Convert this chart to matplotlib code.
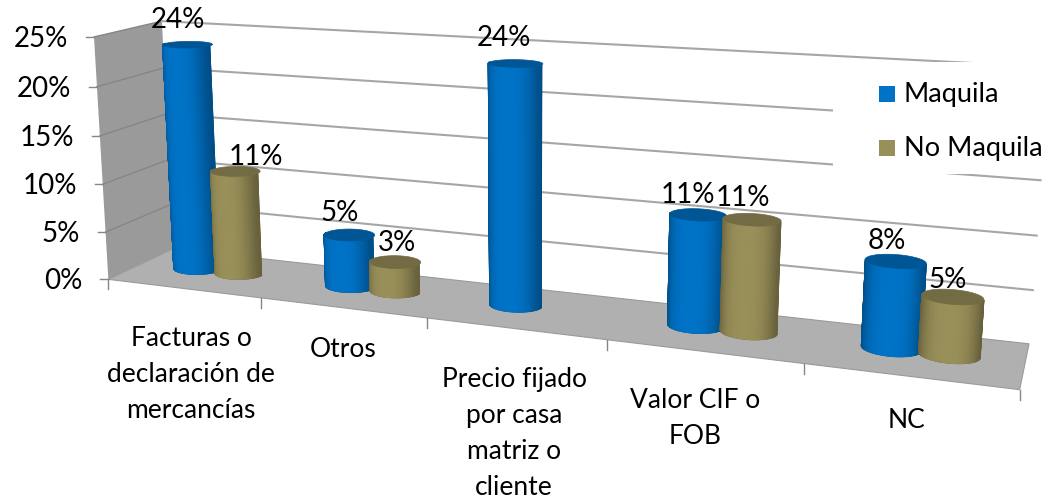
import numpy as np
from matplotlib import pyplot as plt
from matplotlib.colors import LinearSegmentedColormap
from matplotlib.patches import Polygon, Rectangle

categories = ['Facturas o\ndeclaración de\nmercancías', 'Otros',
              'Precio fijado\npor casa\nmatriz o\ncliente', 'Valor CIF o\nFOB', 'NC']
maquila = [23.6, 5.3, 23.6, 10.6, 8]
no_maquila = [10.8, 3, 0, 10.6, 5.3]
value_ticks = [0, 5, 10, 15, 20, 25]

BLUE = np.array([0.0, 0.45, 0.78])
OLIVE = np.array([0.60, 0.56, 0.35])
FONT = 'Lato'

# pixel places of known points of the 3d box: (category, depth, value) -> (px, py)
box_pts = [((0, 0, 0), (113, 277)), ((5, 0, 0), (1020, 392)), ((0, 1, 0), (167, 252)),
           ((5, 1, 0), (1030, 340)), ((0, 0, 25), (88, 37)), ((0, 1, 25), (168, 21)),
           ((5, 1, 25), (1048, 67)), ((1, 0, 0), (263, 296)), ((2, 0, 0), (427, 318)),
           ((4, 0, 0), (802, 366))]


def fit_camera(pts):
    # plain DLT with the last entry fixed to 1
    A, b = [], []
    for (x, y, z), (u, v) in pts:
        A.append([x, y, z, 1, 0, 0, 0, 0, -u*x, -u*y, -u*z])
        A.append([0, 0, 0, 0, x, y, z, 1, -v*x, -v*y, -v*z])
        b += [u, v]
    p = np.linalg.lstsq(np.array(A, float), np.array(b, float), rcond=None)[0]
    return np.append(p, 1).reshape(3, 4)


CAM = fit_camera(box_pts)


def project(x, d, z):
    x, d, z = np.broadcast_arrays(x, d, z)
    q = CAM @ np.stack([x, d, z, np.ones_like(x)]).reshape(4, -1)
    return np.column_stack([q[0]/q[2], q[1]/q[2]])


def draw_cylinder(ax, cx, value, color, radius=0.146, rd=0.18):
    t = np.linspace(0, 2*np.pi, 121)
    xs = cx + radius*np.cos(t)
    ds = 0.55 + rd*np.sin(t)
    low = project(xs, ds, 0*t)
    high = project(xs, ds, 0*t + value)
    # only the front half of the side shows, shaded dark at both edges
    front = np.arange(60, 121)
    X = np.vstack([low[front, 0], high[front, 0]])
    Y = np.vstack([low[front, 1], high[front, 1]])
    shade = np.abs(np.cos(t[front]))**3
    C = np.vstack([shade, shade])
    cmap = LinearSegmentedColormap.from_list('side', [color, color*0.68])
    outline = np.vstack([low[front], high[front][::-1]])
    ax.add_patch(Polygon(outline, closed=True, fc=color*0.78, ec=color*0.72, lw=0.8, zorder=4))
    ax.pcolormesh(X, Y, C, cmap=cmap, vmin=0, vmax=1, shading='gouraud', zorder=4)
    ax.add_patch(Polygon(high, closed=True, fc=color*0.75, ec=color*0.75, lw=0.5, zorder=4))


fig = plt.figure(figsize=(10.48, 4.98), dpi=100)
ax = fig.add_axes([0, 0, 1, 1])

# walls and floor
wall = project([0, 0, 0, 0], [0, 1, 1, 0], [0, 0, 25, 25])
ax.add_patch(Polygon(wall, closed=True, fc='#9a9a9a', ec='none', zorder=1))
floor = project([0, 5, 5, 0], [0, 0, 1, 1], [0, 0, 0, 0])
ax.add_patch(Polygon(floor, closed=True, fc='#b0b0b0', ec='#9a9a9a', lw=0.8, zorder=1))

n = len(categories)
for v in value_ticks:
    pts = project([0, 0, n], [0, 1, 1], [v, v, v])
    if v > 0:
        ax.plot(pts[:2, 0], pts[:2, 1], color='#868686', lw=1, zorder=1.5)
        ax.plot(pts[1:, 0], pts[1:, 1], color='#a6a6a6', lw=1.5, zorder=1.5)
    ax.plot([pts[0, 0]-8, pts[0, 0]], [pts[0, 1], pts[0, 1]], color='#868686', lw=1, zorder=1.5)
    ax.text(pts[0, 0]-26, pts[0, 1]+2, f'{v}%', ha='right', va='center', fontsize=20, family=FONT)

for i in range(n + 1):
    p = project(i, 0, 0)[0]
    ax.plot([p[0], p[0]], [p[1], p[1]+10], color='#868686', lw=1, zorder=1.5)

# white box of the legend sits on top of the grid lines
ax.add_patch(Rectangle((833, 62), 215, 112, fc='white', ec='none', zorder=2))
ax.add_patch(Rectangle((879, 86), 16, 16, fc=BLUE, ec='none', zorder=5))
ax.add_patch(Rectangle((879, 140), 16, 16, fc=OLIVE, ec='none', zorder=5))
ax.text(904, 94, 'Maquila', ha='left', va='center', fontsize=19.5, family=FONT, zorder=5)
ax.text(904, 148, 'No Maquila', ha='left', va='center', fontsize=19.5, family=FONT, zorder=5)

# bars
for i in range(n):
    if maquila[i] > 0:
        draw_cylinder(ax, i + 0.505 - 0.14, maquila[i], BLUE)
    if no_maquila[i] > 0:
        draw_cylinder(ax, i + 0.505 + 0.14, no_maquila[i], OLIVE)

# value labels were moved by hand in the original, so they have their own places
label_pos = [(178, 20), (340, 213), (504, 38), (688, 195), (887, 241),
             (256, 157), (397, 243), None, (743, 198), (948, 280)]
for val, pos in zip(maquila + no_maquila, label_pos):
    if pos is not None and val > 0:
        ax.text(pos[0], pos[1], f'{val:.0f}%', ha='center', va='center', fontsize=20, family=FONT, zorder=6)

cat_pos = [(191, 374), (343, 349), (514, 433), (695, 418), (907, 420)]
for name, pos in zip(categories, cat_pos):
    ax.text(pos[0], pos[1], name, ha='center', va='center', fontsize=19, family=FONT,
            linespacing=1.55, zorder=6)

ax.set_xlim(0, 1048)
ax.set_ylim(498, 0)
ax.axis('off')

fig.savefig('out.png', dpi=100)
